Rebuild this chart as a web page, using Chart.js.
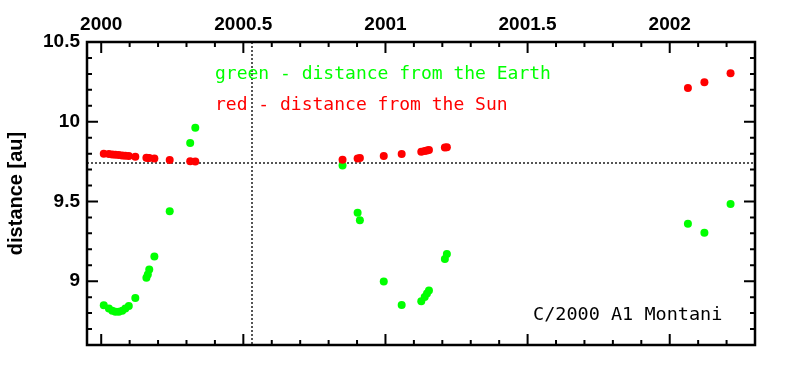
<!DOCTYPE html>
<html>
<head>
<meta charset="utf-8">
<script src="https://cdn.jsdelivr.net/npm/chart.js@4.4.1/dist/chart.umd.min.js"></script>
<style>
  html, body { margin: 0; padding: 0; background: #fff; }
  #chart { display: block; }
</style>
</head>
<body>
<canvas id="chart" width="795" height="375"></canvas>
<script>
// observation epochs (decimal year)
const epochs = [
  2000.009, 2000.027, 2000.039, 2000.050, 2000.062, 2000.074, 2000.085, 2000.097,
  2000.120, 2000.159, 2000.164, 2000.169, 2000.187, 2000.241, 2000.313, 2000.331,
  2000.849, 2000.902, 2000.910, 2000.994, 2001.057, 2001.126, 2001.138, 2001.146,
  2001.153, 2001.209, 2001.216,
  2002.064, 2002.122, 2002.214
];
// distance from the Sun [au]
const sunDist = [
  9.800, 9.797, 9.795, 9.793, 9.791, 9.789, 9.787, 9.785,
  9.781, 9.774, 9.773, 9.772, 9.769, 9.760, 9.752, 9.751,
  9.762, 9.770, 9.773, 9.785, 9.797, 9.812, 9.816, 9.819,
  9.822, 9.838, 9.840,
  10.211, 10.248, 10.304
];
// distance from the Earth [au]
const earthDist = [
  8.849, 8.829, 8.814, 8.808, 8.808, 8.814, 8.829, 8.845,
  8.894, 9.021, 9.042, 9.073, 9.155, 9.439, 9.866, 9.963,
  9.725, 9.429, 9.383, 8.998, 8.851, 8.874, 8.901, 8.923,
  8.942, 9.139, 9.170,
  9.360, 9.304, 9.484
];
const xTicks = [2000, 2000.5, 2001, 2001.5, 2002];
const yTicks = [9, 9.5, 10, 10.5];
const perihelionDate = 2000.53;
const perihelionDist = 9.742;

const toPoints = (xs, ys) => xs.map((x, i) => ({ x: x, y: ys[i] }));

const tickFont = { family: "Liberation Sans", size: 19, weight: "bold" };
const monoFont = "18px 'DejaVu Sans Mono'";

// frame, inward ticks on all four sides, dotted perihelion lines, notes
const framePlugin = {
  id: "frame",
  beforeDatasetsDraw(chart) {
    const ctx = chart.ctx;
    const a = chart.chartArea;
    const xs = chart.scales.x, ys = chart.scales.y;
    ctx.save();
    ctx.strokeStyle = "#555";
    ctx.lineWidth = 2;
    ctx.setLineDash([2, 2]);
    const px = Math.round(xs.getPixelForValue(perihelionDate));
    const py = Math.round(ys.getPixelForValue(perihelionDist));
    ctx.beginPath();
    ctx.moveTo(px, a.top); ctx.lineTo(px, a.bottom);
    ctx.moveTo(a.left, py); ctx.lineTo(a.right, py);
    ctx.stroke();
    ctx.restore();
  },
  afterDraw(chart) {
    const ctx = chart.ctx;
    const a = chart.chartArea;
    const xs = chart.scales.x, ys = chart.scales.y;
    ctx.save();
    ctx.strokeStyle = "#000";
    ctx.lineWidth = 2;
    ctx.beginPath();
    for (let k = Math.ceil(xs.min * 10); k <= Math.floor(xs.max * 10); k++) {
      const len = k % 5 === 0 ? 11 : 5;
      const x = xs.getPixelForValue(k / 10);
      ctx.moveTo(x, a.top); ctx.lineTo(x, a.top + len);
      ctx.moveTo(x, a.bottom); ctx.lineTo(x, a.bottom - len);
    }
    for (let k = Math.ceil(ys.min * 10); k <= Math.floor(ys.max * 10); k++) {
      const len = k % 5 === 0 ? 11 : 5;
      const y = ys.getPixelForValue(k / 10);
      ctx.moveTo(a.left, y); ctx.lineTo(a.left + len, y);
      ctx.moveTo(a.right, y); ctx.lineTo(a.right - len, y);
    }
    ctx.stroke();
    ctx.lineWidth = 2.5;
    ctx.strokeRect(a.left, a.top, a.right - a.left, a.bottom - a.top);

    ctx.font = monoFont;
    ctx.textBaseline = "alphabetic";
    ctx.textAlign = "left";
    ctx.fillStyle = "#00ff00";
    ctx.fillText("green - distance from the Earth", a.left + 128, a.top + 37);
    ctx.fillStyle = "#ff0000";
    ctx.fillText("red - distance from the Sun", a.left + 128, a.top + 68);
    ctx.fillStyle = "#000";
    ctx.font = "18.5px 'DejaVu Sans Mono'";
    ctx.fillText("C/2000 A1 Montani", a.left + 446, a.top + 278);
    ctx.restore();
  }
};

new Chart(document.getElementById("chart"), {
  type: "scatter",
  data: {
    datasets: [
      {
        label: "distance from the Sun",
        data: toPoints(epochs, sunDist),
        backgroundColor: "#ff0000",
        borderWidth: 0,
        pointRadius: 4
      },
      {
        label: "distance from the Earth",
        data: toPoints(epochs, earthDist),
        backgroundColor: "#00ff00",
        borderWidth: 0,
        pointRadius: 4
      }
    ]
  },
  options: {
    responsive: false,
    animation: false,
    events: [],
    layout: { padding: { left: 0, right: 40, top: 0, bottom: 30 } },
    plugins: {
      legend: { display: false },
      tooltip: { enabled: false }
    },
    scales: {
      x: {
        type: "linear",
        position: "top",
        min: 1999.95,
        max: 2002.3,
        grid: { display: false, drawTicks: false },
        border: { display: false },
        ticks: {
          color: "#000",
          font: tickFont,
          padding: 6,
          maxRotation: 0,
          autoSkip: false,
          callback: (v) => String(v)
        },
        afterBuildTicks: (scale) => { scale.ticks = xTicks.map((v) => ({ value: v })); },
        afterFit: (scale) => { scale.height = 42; }
      },
      y: {
        type: "linear",
        position: "left",
        min: 8.6,
        max: 10.5,
        grid: { display: false, drawTicks: false },
        border: { display: false },
        title: {
          display: true,
          text: "distance [au]",
          color: "#000",
          font: { family: "Liberation Sans", size: 20, weight: "bold" },
          padding: { top: 4, bottom: 4 }
        },
        ticks: {
          color: "#000",
          font: tickFont,
          padding: 7,
          autoSkip: false,
          callback: (v) => String(v)
        },
        afterBuildTicks: (scale) => { scale.ticks = yTicks.map((v) => ({ value: v })); },
        afterFit: (scale) => { scale.width = 87; }
      }
    }
  },
  plugins: [framePlugin]
});
</script>
</body>
</html>
